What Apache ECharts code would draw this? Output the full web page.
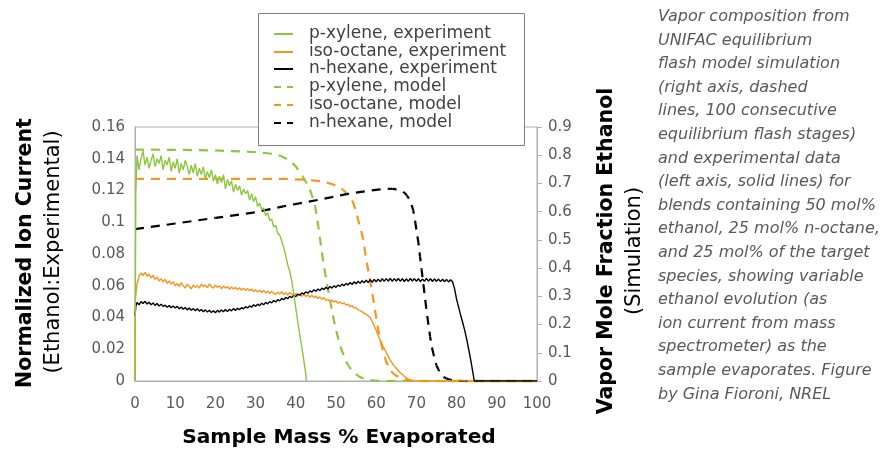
<!DOCTYPE html>
<html>
<head>
<meta charset="utf-8">
<script src="https://cdn.jsdelivr.net/npm/echarts@6/dist/echarts.min.js"></script>
<style>html,body{margin:0;padding:0;background:#fff}#c{width:881px;height:449px}</style>
</head>
<body>
<div id="c"></div>
<script>
// ---------- data (x = Sample Mass % Evaporated) ----------
const seriesNames = ['p-xylene, experiment','iso-octane, experiment','n-hexane, experiment','p-xylene, model','iso-octane, model','n-hexane, model'];

// Experimental normalized ion current (left axis)
const pxyleneExp = [[0,0],[0.2,0.118],[0.5,0.142],[1,0.133],[1.5,0.140],[2,0.145],[2.5,0.136],[3,0.141],[3.5,0.134],[4,0.139],[4.5,0.143],[5,0.135],[5.5,0.140],[6,0.137],[6.5,0.142],[7,0.133],[7.5,0.139],[8,0.136],[8.5,0.141],[9,0.132],[9.5,0.138],[10,0.134],[10.5,0.140],[11,0.131],[11.5,0.137],[12,0.133],[12.5,0.139],[13,0.135],[13.5,0.130],[14,0.136],[14.5,0.131],[15,0.137],[15.5,0.129],[16,0.134],[16.5,0.130],[17,0.135],[17.5,0.127],[18,0.132],[18.5,0.128],[19,0.133],[19.5,0.126],[20,0.130],[20.5,0.124],[21,0.129],[21.5,0.125],[22,0.130],[22.5,0.121],[23,0.127],[23.5,0.123],[24,0.126],[24.5,0.119],[25,0.124],[25.5,0.120],[26,0.123],[26.5,0.117],[27,0.121],[27.5,0.118],[28,0.120],[28.5,0.114],[29,0.118],[29.5,0.113],[30,0.116],[30.5,0.110],[31,0.112],[31.5,0.108],[32,0.109],[32.5,0.104],[33,0.106],[33.5,0.101],[34,0.102],[34.5,0.097],[35,0.098],[35.5,0.093],[36,0.092],[36.5,0.088],[37,0.084],[37.5,0.079],[38,0.073],[38.5,0.069],[39,0.063],[39.5,0.055],[40,0.046],[40.5,0.037],[41,0.029],[41.5,0.021],[42,0.013],[42.5,0.004],[42.6,0]];

const isooctaneExp = [[0,0],[0.1,0.052],[0.5,0.061],[1,0.066],[1.5,0.068],[2,0.0665],[2.5,0.0685],[3,0.066],[3.5,0.0675],[4,0.065],[4.5,0.0665],[5,0.064],[5.5,0.0655],[6,0.063],[6.5,0.0645],[7,0.0625],[7.5,0.064],[8,0.0615],[8.5,0.063],[9,0.061],[9.5,0.0625],[10,0.060],[10.5,0.0615],[11,0.0595],[11.5,0.062],[12,0.060],[12.5,0.0585],[13,0.061],[13.5,0.0595],[14,0.058],[14.5,0.0605],[15,0.059],[15.5,0.060],[16,0.0585],[16.5,0.061],[17,0.0595],[17.5,0.0605],[18,0.0588],[18.5,0.0612],[19,0.0596],[19.5,0.0585],[20,0.0605],[20.5,0.059],[21,0.060],[21.5,0.058],[22,0.0598],[22.5,0.0585],[23,0.0595],[23.5,0.0578],[24,0.0592],[24.5,0.058],[25,0.059],[25.5,0.0575],[26,0.0588],[26.5,0.0572],[27,0.0585],[27.5,0.057],[28,0.0582],[28.5,0.0568],[29,0.058],[29.5,0.0562],[30,0.0575],[30.5,0.056],[31,0.0572],[31.5,0.0558],[32,0.057],[32.5,0.0555],[33,0.0566],[33.5,0.055],[34,0.0565],[34.5,0.0552],[35,0.0545],[35.5,0.056],[36,0.0548],[36.5,0.0562],[37,0.0545],[37.5,0.0556],[38,0.0542],[38.5,0.0558],[39,0.0546],[39.5,0.0538],[40,0.0552],[40.5,0.0536],[41,0.0548],[41.5,0.0534],[42,0.0545],[42.5,0.0532],[43,0.0542],[43.5,0.0528],[44,0.054],[44.5,0.0525],[45,0.0535],[45.5,0.052],[46,0.053],[46.5,0.0515],[47,0.0525],[47.5,0.0508],[48,0.0515],[48.5,0.050],[49,0.051],[49.5,0.0496],[50,0.0505],[50.5,0.049],[51,0.0498],[51.5,0.0485],[52,0.0492],[52.5,0.0478],[53,0.0484],[53.5,0.0468],[54,0.0474],[54.5,0.046],[55,0.0462],[55.5,0.0448],[56,0.0445],[56.5,0.0435],[57,0.0428],[57.5,0.042],[58,0.041],[58.5,0.040],[59,0.0375],[59.5,0.035],[60,0.032],[60.5,0.0285],[61,0.0258],[61.5,0.023],[62,0.0205],[62.5,0.018],[63,0.0155],[63.5,0.0132],[64,0.0112],[64.5,0.0095],[65,0.008],[65.5,0.0065],[66,0.0052],[66.5,0.0042],[67,0.003],[67.5,0.002],[68,0.0012],[68.5,0.0006],[69,0],[100,0]];

const nhexaneExp = [[0,0.041],[0.2,0.047],[0.5,0.0495],[1,0.048],[1.5,0.050],[2,0.0488],[2.5,0.0502],[3,0.0485],[3.5,0.0496],[4,0.048],[4.5,0.0492],[5,0.0476],[5.5,0.0488],[6,0.0472],[6.5,0.0484],[7,0.047],[7.5,0.0478],[8,0.0465],[8.5,0.0475],[9,0.0462],[9.5,0.0472],[10,0.046],[10.5,0.047],[11,0.0455],[11.5,0.0466],[12,0.0452],[12.5,0.0463],[13,0.0448],[13.5,0.046],[14,0.0446],[14.5,0.0456],[15,0.0442],[15.5,0.0455],[16,0.044],[16.5,0.045],[17,0.0436],[17.5,0.0448],[18,0.0435],[18.5,0.0446],[19,0.0432],[19.5,0.0443],[20,0.043],[20.5,0.0445],[21,0.0434],[21.5,0.0447],[22,0.0436],[22.5,0.045],[23,0.0438],[23.5,0.0452],[24,0.0442],[24.5,0.0456],[25,0.0445],[25.5,0.0458],[26,0.045],[26.5,0.0462],[27,0.0455],[27.5,0.0468],[28,0.046],[28.5,0.0473],[29,0.0465],[29.5,0.048],[30,0.047],[30.5,0.0484],[31,0.0475],[31.5,0.049],[32,0.048],[32.5,0.0495],[33,0.0486],[33.5,0.050],[34,0.0492],[34.5,0.0507],[35,0.0498],[35.5,0.0512],[36,0.0505],[36.5,0.052],[37,0.0512],[37.5,0.0527],[38,0.0518],[38.5,0.0534],[39,0.0525],[39.5,0.054],[40,0.0532],[40.5,0.0548],[41,0.054],[41.5,0.0555],[42,0.0547],[42.5,0.0562],[43,0.0553],[43.5,0.0568],[44,0.056],[44.5,0.0575],[45,0.0565],[45.5,0.058],[46,0.057],[46.5,0.0585],[47,0.0576],[47.5,0.059],[48,0.058],[48.5,0.0595],[49,0.0585],[49.5,0.060],[50,0.059],[50.5,0.0605],[51,0.0596],[51.5,0.061],[52,0.060],[52.5,0.0615],[53,0.0605],[53.5,0.062],[54,0.0608],[54.5,0.0625],[55,0.0612],[55.5,0.0628],[56,0.0615],[56.5,0.0632],[57,0.0618],[57.5,0.0635],[58,0.062],[58.5,0.0638],[59,0.0622],[59.5,0.064],[60,0.0625],[60.5,0.0642],[61,0.0626],[61.5,0.0644],[62,0.0628],[62.5,0.0645],[63,0.063],[63.5,0.0646],[64,0.0628],[64.5,0.0645],[65,0.063],[65.5,0.0646],[66,0.0628],[66.5,0.0644],[67,0.0627],[67.5,0.0643],[68,0.0628],[68.5,0.0646],[69,0.063],[69.5,0.0645],[70,0.0628],[70.5,0.0644],[71,0.0627],[71.5,0.0642],[72,0.0628],[72.5,0.0646],[73,0.0629],[73.5,0.0644],[74,0.0627],[74.5,0.0643],[75,0.0628],[75.5,0.0642],[76,0.0626],[76.5,0.0641],[77,0.0625],[77.5,0.064],[78,0.0624],[78.5,0.0638],[79,0.0625],[79.5,0.058],[80,0.0515],[80.5,0.0465],[81,0.0415],[81.5,0.037],[82,0.032],[82.5,0.0265],[83,0.020],[83.5,0.0135],[84,0.006],[84.4,0],[100,0]];

// Simulated vapor mole fraction ethanol (right axis)
const pxyleneModel = [[0,0.82],[10,0.819],[20,0.817],[30,0.811],[33,0.807],[35,0.803],[36.3,0.797],[37.3,0.79],[38.2,0.783],[39,0.775],[40,0.76],[41,0.74],[41.7,0.725],[42.3,0.71],[43,0.695],[43.5,0.678],[44.2,0.65],[44.8,0.619],[45.2,0.585],[45.6,0.548],[46,0.507],[46.4,0.465],[46.8,0.425],[47.3,0.382],[47.9,0.333],[48.5,0.288],[49.1,0.24],[49.8,0.193],[50.6,0.148],[51.4,0.11],[52.5,0.07],[53.2,0.052],[53.9,0.039],[54.7,0.027],[55.5,0.018],[56.5,0.011],[57.6,0.006],[58.8,0.003],[60,0.001],[62,0],[100,0]];
const isooctaneModel = [[0,0.716],[20,0.716],[37.7,0.716],[42.6,0.713],[46,0.708],[48,0.702],[49.3,0.696],[50.3,0.691],[51,0.685],[51.8,0.677],[52.6,0.666],[53.5,0.65],[54,0.64],[54.3,0.631],[54.9,0.605],[55.5,0.571],[56.2,0.535],[56.8,0.5],[57.2,0.46],[57.7,0.418],[58.3,0.37],[58.9,0.323],[59.5,0.27],[60.1,0.217],[60.7,0.167],[61.4,0.122],[62.2,0.08],[63,0.051],[63.5,0.039],[64,0.03],[64.7,0.021],[65.5,0.015],[66.2,0.01],[67,0.006],[68.4,0.002],[70,0],[100,0]];
const nhexaneModel = [[0,0.538],[10,0.558],[20,0.578],[30,0.598],[36.9,0.619],[46,0.643],[52.6,0.662],[58,0.674],[61,0.679],[62.6,0.681],[64,0.681],[65,0.679],[65.8,0.677],[66.5,0.672],[67.1,0.666],[67.6,0.658],[68.2,0.645],[68.8,0.625],[69.2,0.605],[69.6,0.575],[70,0.536],[70.5,0.49],[70.9,0.441],[71.3,0.395],[71.7,0.347],[72.1,0.3],[72.5,0.252],[73,0.2],[73.4,0.157],[74,0.11],[74.6,0.075],[75,0.055],[75.5,0.04],[76.3,0.021],[77,0.012],[77.5,0.009],[78.4,0.004],[80,0.001],[82,0],[100,0]];

const annotationLines = ['Vapor composition from','UNIFAC equilibrium','flash model simulation','(right axis, dashed','lines, 100 consecutive','equilibrium flash stages)','and experimental data','(left axis, solid lines) for','blends containing 50 mol%','ethanol, 25 mol% n-octane,','and 25 mol% of the target','species, showing variable','ethanol evolution (as','ion current from mass','spectrometer) as the','sample evaporates. Figure','by Gina Fioroni, NREL'];

// ---------- chart ----------
const FONT = 'DejaVu Sans';
const GREEN = '#8cc63f', ORANGE = '#f7941d', BLACK = '#000000';
const AX = '#b0b0b0';
const COLORS = [GREEN, ORANGE, BLACK, GREEN, ORANGE, BLACK];
const DASH = 9, GAP = 7;
const chart = echarts.init(document.getElementById('c'), null, {renderer:'canvas'});

function solidLine(name, data, color) {
  return {
    name, type:'line', data, yAxisIndex:0, symbol:'none', showSymbol:false, animation:false,
    smooth:false, lineStyle:{color, width:1.4, type:'solid'}, itemStyle:{color}, z:3
  };
}

// split a pixel polyline into short straight dash segments (styling only; pixel points come from api.coord)
function dashSegments(pts) {
  const segs = [];
  let on = true, left = DASH;
  for (let i = 1; i < pts.length; i++) {
    let x0 = pts[i-1][0], y0 = pts[i-1][1];
    const x1 = pts[i][0], y1 = pts[i][1];
    let segLen = Math.hypot(x1 - x0, y1 - y0);
    while (segLen > 1e-9) {
      const step = Math.min(segLen, left);
      const t = step / segLen;
      const xm = x0 + (x1 - x0) * t, ym = y0 + (y1 - y0) * t;
      if (on && step > 0.05) segs.push([x0, y0, xm, ym]);
      left -= step; segLen -= step; x0 = xm; y0 = ym;
      if (left <= 1e-9) { on = !on; left = on ? DASH : GAP; }
    }
  }
  return segs;
}

// dashed model curves: custom series, points placed through the right y-axis scale (api.coord)
function dashedLine(name, data, color) {
  return {
    name, type:'custom', yAxisIndex:1, animation:false, z:2, clip:false,
    data: data,
    itemStyle:{color},
    renderItem: function (params, api) {
      if (params.dataIndex !== 0) return null;
      const pts = data.map(p => api.coord(p));
      return {
        type:'group', silent:true,
        children: dashSegments(pts).map(s => ({
          type:'line', shape:{x1:s[0], y1:s[1], x2:s[2], y2:s[3]},
          style:{stroke:color, lineWidth:2.2, lineCap:'butt'}
        }))
      };
    }
  };
}

// legend drawn as graphic: box, sample lines, labels
const LEG_X = 258, LEG_Y = 13, LEG_W = 266, LEG_H = 132, ROW0 = 34, ROW_H = 17.7;
const legendGraphics = [{type:'rect', z:50, shape:{x:LEG_X+0.5, y:LEG_Y+0.5, width:LEG_W, height:LEG_H}, style:{fill:'#fff', stroke:'#7f7f7f', lineWidth:1}}];
seriesNames.forEach((n, i) => {
  const y = Math.round(ROW0 + i * ROW_H);
  if (i < 3) {
    legendGraphics.push({type:'line', z:51, shape:{x1:274, y1:y, x2:293, y2:y}, style:{stroke:COLORS[i], lineWidth:2}});
  } else {
    legendGraphics.push({type:'line', z:51, shape:{x1:274, y1:y, x2:281, y2:y}, style:{stroke:COLORS[i], lineWidth:2}});
    legendGraphics.push({type:'line', z:51, shape:{x1:287, y1:y, x2:293, y2:y}, style:{stroke:COLORS[i], lineWidth:2}});
  }
  legendGraphics.push({type:'text', z:51, x:309, y:y, style:{text:n, font:'17px "DejaVu Sans"', fill:'#404040', textAlign:'left', textVerticalAlign:'middle'}});
});

const option = {
  animation:false,
  backgroundColor:'#fff',
  grid:{left:135, right:344, top:127, bottom:68, show:true, borderColor:AX, borderWidth:1},
  legend:{show:false, data:seriesNames},
  xAxis:{type:'value', min:0, max:100, interval:10,
    axisLine:{show:true, lineStyle:{color:AX}}, axisTick:{show:false}, splitLine:{show:false},
    axisLabel:{fontFamily:FONT, fontSize:15, color:'#595959', margin:16}},
  yAxis:[
    {type:'value', min:0, max:0.16, interval:0.02, position:'left',
     axisLine:{show:true, lineStyle:{color:AX}}, axisTick:{show:false}, splitLine:{show:false},
     axisLabel:{fontFamily:FONT, fontSize:15, color:'#595959', margin:10, formatter:v=>String(+v.toFixed(2))}},
    {type:'value', min:0, max:0.9, interval:0.1, position:'right',
     axisLine:{show:true, lineStyle:{color:AX}}, axisTick:{show:true, inside:false, length:5, lineStyle:{color:AX}}, splitLine:{show:false},
     axisLabel:{fontFamily:FONT, fontSize:15, color:'#595959', margin:11, formatter:v=>String(+v.toFixed(1))}}
  ],
  series:[
    dashedLine(seriesNames[3], pxyleneModel, GREEN),
    dashedLine(seriesNames[4], isooctaneModel, ORANGE),
    dashedLine(seriesNames[5], nhexaneModel, BLACK),
    solidLine(seriesNames[1], isooctaneExp, ORANGE),
    solidLine(seriesNames[2], nhexaneExp, BLACK),
    solidLine(seriesNames[0], pxyleneExp, GREEN)
  ],
  graphic:[
    {type:'text', x:26, y:253, rotation:Math.PI/2, style:{text:'Normalized Ion Current', font:'bold 20.5px "DejaVu Sans"', fill:'#000', textAlign:'center', textVerticalAlign:'middle'}},
    {type:'text', x:54, y:252, rotation:Math.PI/2, style:{text:'(Ethanol:Experimental)', font:'21px "DejaVu Sans"', fill:'#000', textAlign:'center', textVerticalAlign:'middle'}},
    {type:'text', x:607, y:251, rotation:Math.PI/2, style:{text:'Vapor Mole Fraction Ethanol', font:'bold 20.5px "DejaVu Sans"', fill:'#000', textAlign:'center', textVerticalAlign:'middle'}},
    {type:'text', x:635, y:251, rotation:Math.PI/2, style:{text:'(Simulation)', font:'21px "DejaVu Sans"', fill:'#000', textAlign:'center', textVerticalAlign:'middle'}},
    {type:'text', x:339, y:438, style:{text:'Sample Mass % Evaporated', font:'bold 20.2px "DejaVu Sans"', fill:'#000', textAlign:'center', textVerticalAlign:'middle'}},
    {type:'text', x:658, y:5, style:{text:annotationLines.join('\n'), font:'italic 16px "DejaVu Sans"', fill:'#595959', lineHeight:23.6, textAlign:'left', textVerticalAlign:'top'}}
  ].concat(legendGraphics)
};
chart.setOption(option);
</script>
</body>
</html>
